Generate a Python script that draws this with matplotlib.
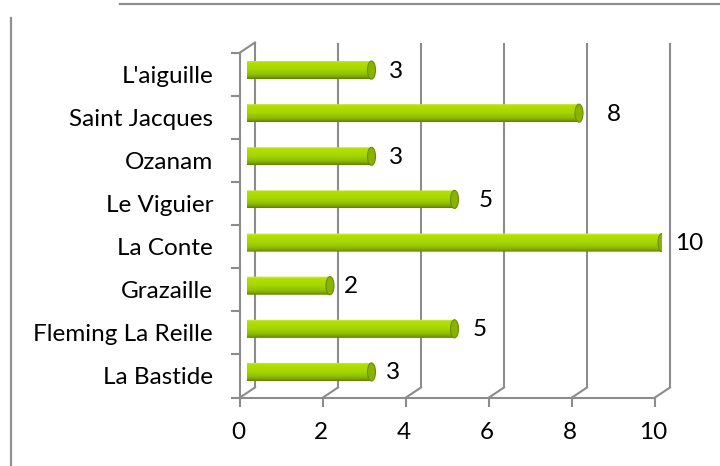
import numpy as np
import matplotlib
matplotlib.use("Agg")
import matplotlib.pyplot as plt
from matplotlib import transforms
from matplotlib.patches import Ellipse, PathPatch
from matplotlib.path import Path
from matplotlib.colors import LinearSegmentedColormap

categories = ["L'aiguille", "Saint Jacques", "Ozanam", "Le Viguier",
              "La Conte", "Grazaille", "Fleming La Reille", "La Bastide"]
values = [3, 8, 3, 5, 10, 2, 5, 3]
xticks = [0, 2, 4, 6, 8, 10]
xticklabels = ["0", "2", "4", "6", "8", "10"]

# style: extra gap (px) between bar end and its value label
label_gap = [14, 25, 14, 21, 10, 11, 15, 11]

W, H = 720, 466
fig = plt.figure(figsize=(W / 100, H / 100), dpi=100)
plt.rcParams['font.family'] = ['Lato', 'DejaVu Sans']

# bar plane in pixels
x0, xw = 247, 415
ytop, ybot = 48.5, 393.5
ax = fig.add_axes([x0 / W, (H - ybot) / H, xw / W, (ybot - ytop) / H])
ax.set_xlim(0, 10)
n = len(categories)
ax.set_ylim(-0.5, n - 0.5)
ax.axis('off')

front = transforms.offset_copy(ax.transData, fig, x=-7, y=-4, units='dots')
back = transforms.offset_copy(ax.transData, fig, x=8, y=6, units='dots')

gc = '#8c8c8c'
glw = 1.5
ylo, yhi = -0.5, n - 0.5

for t in xticks:
    ax.plot([t, t], [ylo, yhi], color=gc, lw=glw, transform=back, clip_on=False,
            solid_capstyle='butt')
for t in xticks:
    p1 = front.transform((t, ylo))
    p2 = back.transform((t, ylo))
    ax.plot([p1[0], p2[0]], [p1[1], p2[1]], color=gc, lw=glw, transform=None,
            clip_on=False)
p1 = front.transform((0, yhi))
p2 = back.transform((0, yhi))
ax.plot([p1[0], p2[0]], [p1[1], p2[1]], color=gc, lw=glw, transform=None, clip_on=False)

ax.plot([0, 0], [ylo, yhi], color=gc, lw=glw, transform=front, clip_on=False)
ax.plot([0, 10], [ylo, ylo], color=gc, lw=glw, transform=front, clip_on=False)
for k in range(n + 1):
    p = front.transform((0, ylo + k))
    ax.plot([p[0] - 8, p[0]], [p[1], p[1]], color=gc, lw=glw, transform=None, clip_on=False)
for t in xticks:
    p = front.transform((t, ylo))
    ax.plot([p[0], p[0]], [p[1], p[1] - 8], color=gc, lw=glw, transform=None, clip_on=False)

fs = 17.5
for t, lab in zip(xticks, xticklabels):
    p = front.transform((t, ylo))
    fig.text(p[0] / W - 2 / W, (p[1] - 35) / H, lab, ha='center', va='center',
             fontsize=fs, color='black')
ypos = np.arange(n)[::-1]
for yy, lab in zip(ypos, categories):
    p = front.transform((0, yy))
    fig.text((p[0] - 27) / W, (p[1] - 2) / H, lab, ha='right', va='center',
             fontsize=fs, color='black')

cmap = LinearSegmentedColormap.from_list('cyl', [
    (0.0, '#d2ee70'), (0.12, '#b4e000'), (0.5, '#a4d600'),
    (0.76, '#90bf00'), (0.9, '#7aa200'), (1.0, '#5c7e00')])
grad = np.linspace(0, 1, 64).reshape(-1, 1)
h = 0.42
ew = 8 / 41.5
for yy, v, gap in zip(ypos, values, label_gap):
    yb, yt = yy - h / 2, yy + h / 2
    th = np.linspace(np.pi / 2, 3 * np.pi / 2, 30)
    arc = np.column_stack([ew / 2 * np.cos(th), yy + h / 2 * np.sin(th)])
    verts = np.vstack([arc, [[v, yb], [v, yt], [0, yt]]])
    codes = [Path.MOVETO] + [Path.LINETO] * (len(verts) - 2) + [Path.CLOSEPOLY]
    clip = PathPatch(Path(verts, codes), transform=ax.transData, facecolor='none',
                     edgecolor='none')
    ax.add_patch(clip)
    im = ax.imshow(grad, cmap=cmap, extent=(-ew / 2, v, yb, yt), aspect='auto',
                   origin='upper', interpolation='bilinear', zorder=3)
    im.set_clip_path(clip)
    cap = Ellipse((v, yy), ew, h, facecolor='#88b400', edgecolor='#6a8e00',
                  lw=0.8, zorder=4)
    ax.add_patch(cap)
    p = ax.transData.transform((v, yy))
    ax.text(p[0] + gap + 3, p[1] - 1, str(v), transform=None, ha='left', va='center',
            fontsize=fs, color='black', clip_on=False)

ax.set_xlim(0, 10)
ax.set_ylim(-0.5, n - 0.5)

fig.add_artist(plt.Line2D([120 / W, 1], [1 - 4 / H, 1 - 4 / H], color='#909090', lw=1.6))
fig.add_artist(plt.Line2D([11 / W, 11 / W], [0, 1 - 18 / H], color='#909090', lw=1.6))

fig.savefig('out.png', dpi=100)
